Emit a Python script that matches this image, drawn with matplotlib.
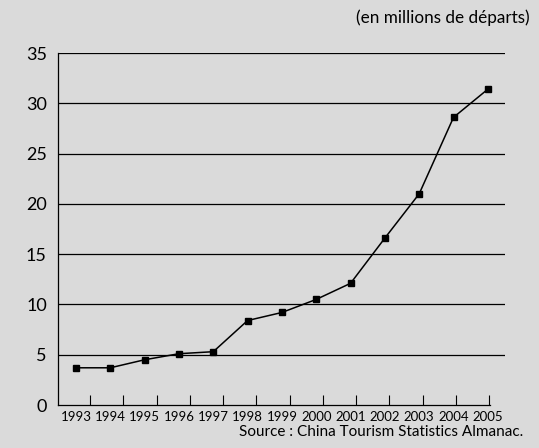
import numpy as np
import matplotlib.pyplot as plt

# Data
years = ['1993', '1994', '1995', '1996', '1997', '1998', '1999',
         '2000', '2001', '2002', '2003', '2004', '2005']
departs = [3.7, 3.7, 4.5, 5.1, 5.3, 8.4, 9.2, 10.5, 12.1, 16.6, 21.0, 28.6, 31.4]

plt.rcParams['font.family'] = ['Lato', 'DejaVu Sans']

fig = plt.figure(figsize=(5.39, 4.48), dpi=100, facecolor='#dadada')
ax = fig.add_axes([58 / 539, 1 - 405 / 448, (505 - 58) / 539, (405 - 53) / 448])
ax.set_facecolor('none')

x = np.arange(len(years))
ax.plot(x, departs, color='black', linewidth=1.1, marker='s', markersize=4)

ax.set_xlim(-0.525, 12.5)
ax.set_ylim(0, 35)

# horizontal grid lines
for v in range(5, 40, 5):
    ax.axhline(v, color='black', linewidth=0.9, zorder=0)

ax.set_yticks(range(0, 40, 5))
ax.tick_params(axis='y', length=0, labelsize=13, pad=8)
ax.set_xticks(x)
ax.set_xticklabels(years)
ax.tick_params(axis='x', which='major', length=0, labelsize=9.5, pad=4)
ax.set_xticks(np.linspace(0.41, 12.04, 13), minor=True)
ax.tick_params(axis='x', which='minor', direction='in', length=7, width=0.8)

for s in ['top', 'right']:
    ax.spines[s].set_visible(False)
ax.spines['bottom'].set_bounds(-0.525, 12.07)
ax.spines['left'].set_linewidth(0.9)
ax.spines['bottom'].set_linewidth(0.9)

fig.text(530 / 539, 1 - 18 / 448, '(en millions de départs)', ha='right', va='center', fontsize=12.3)
fig.text(523 / 539, 1 - 432 / 448, 'Source : China Tourism Statistics Almanac.', ha='right', va='center', fontsize=11)

fig.savefig('out.png', dpi=100, facecolor=fig.get_facecolor())
